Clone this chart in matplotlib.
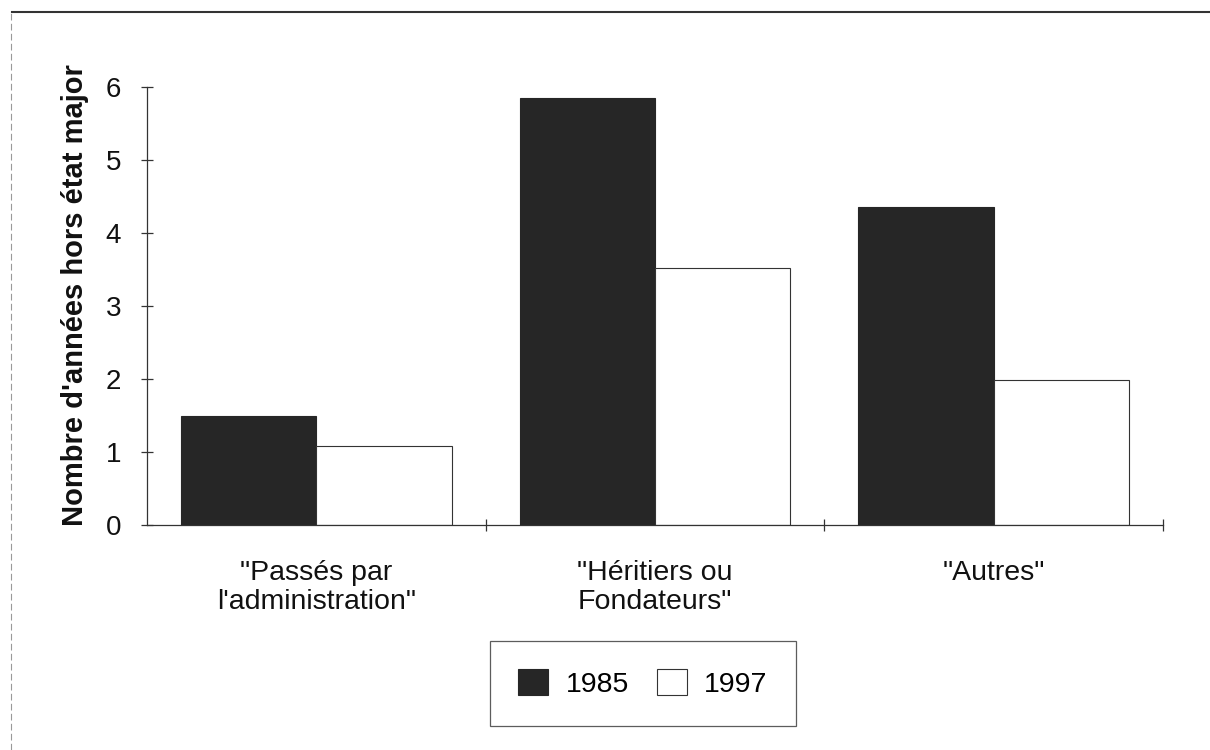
import matplotlib
matplotlib.use("Agg")
import matplotlib.pyplot as plt
from matplotlib.patches import Patch
from matplotlib.lines import Line2D
import numpy as np

categories = ['"Passés par\nl\'administration"', '"Héritiers ou\nFondateurs"', '"Autres"']
series_names = ["1985", "1997"]
values_1985 = [1.50, 5.85, 4.35]
values_1997 = [1.08, 3.52, 1.98]
y_ticks = [0, 1, 2, 3, 4, 5, 6]
y_label = "Nombre d'années hors état major"

plt.rcParams['font.family'] = ['Liberation Sans', 'DejaVu Sans']

fig = plt.figure(figsize=(12.1, 7.5), dpi=100)
ax = fig.add_axes([147/1210, 0.30, (1163-147)/1210, 0.884-0.30])

x = np.arange(len(categories))
w = 0.4
dark = "#262626"
ax.bar(x - w/2, values_1985, width=w, color=dark, edgecolor=dark, linewidth=0.8, label=series_names[0])
ax.bar(x + w/2, values_1997, width=w, color="white", edgecolor="#333333", linewidth=0.8, label=series_names[1])

ax.set_xlim(-0.5, 2.5)
ax.set_ylim(0, 6)
for s in ["top", "right"]:
    ax.spines[s].set_visible(False)
for s in ["left", "bottom"]:
    ax.spines[s].set_color("#333333")
    ax.spines[s].set_linewidth(0.9)

ax.set_yticks(y_ticks)
ax.set_yticklabels([str(t) for t in y_ticks])
ax.tick_params(axis="y", direction="inout", length=9, width=0.9, color="#333333",
               labelsize=20, pad=14, labelcolor="#111111")

ax.set_xticks(x)
ax.set_xticklabels(categories, fontsize=20.5, linespacing=1.18, color="#111111")
ax.set_xticks([0.5, 1.5, 2.5], minor=True)
ax.tick_params(axis="x", which="major", length=0, pad=25)
ax.tick_params(axis="x", which="minor", direction="inout", length=9, width=0.9, color="#333333")

fig.text(75/1210, 1 - 295/750, y_label, rotation=90, ha="center", va="center",
         fontsize=21, fontweight="bold", color="#111111")

handles = [Patch(facecolor=dark, edgecolor=dark, linewidth=0.8),
           Patch(facecolor="white", edgecolor="#333333", linewidth=0.8)]
leg = fig.legend(handles, series_names, loc="center", bbox_to_anchor=(643/1210, 1 - 683.5/750),
                 ncol=2, fontsize=20.5, frameon=True, fancybox=False, edgecolor="#333333",
                 handlelength=1.05, handleheight=1.0, handletextpad=0.6, columnspacing=1.0,
                 borderpad=1.0, borderaxespad=0)
leg.get_frame().set_linewidth(0.9)

# outer frame lines
fig.add_artist(Line2D([12/1210, 1.0], [1 - 12/750, 1 - 12/750], transform=fig.transFigure,
                      color="#333333", linewidth=1.5))
fig.add_artist(Line2D([11/1210, 11/1210], [0.0, 1 - 12/750], transform=fig.transFigure,
                      color="#999999", linewidth=0.8, linestyle=(0, (6, 3))))

fig.savefig("out.png", dpi=100)
